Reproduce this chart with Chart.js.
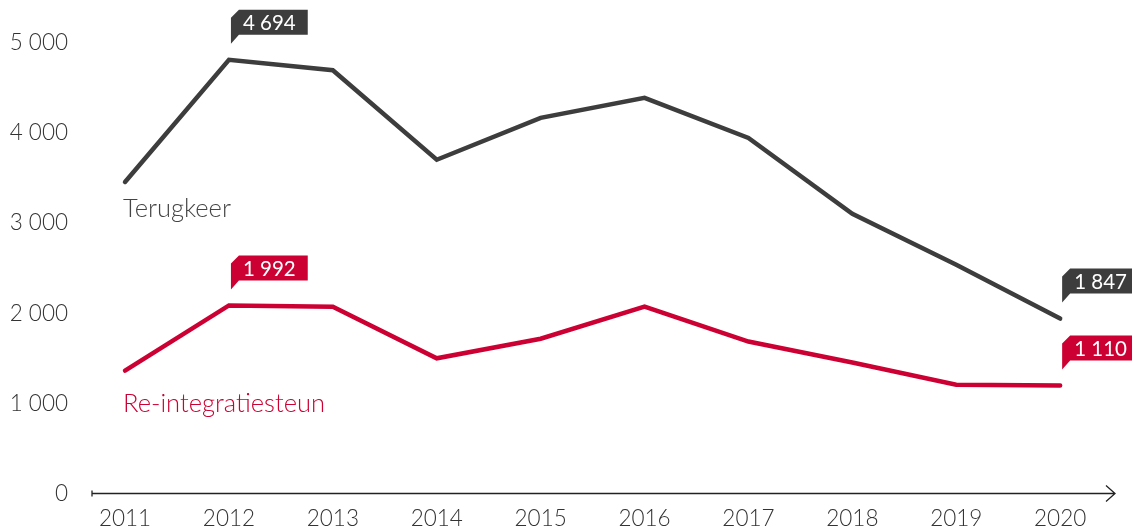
<!DOCTYPE html>
<html>
<head>
<meta charset="utf-8">
<script src="https://cdn.jsdelivr.net/npm/chart.js@4"></script>
<style>
  html, body { margin: 0; padding: 0; background: #fff; }
  #wrap { width: 1132px; height: 531px; }
</style>
</head>
<body>
<div id="wrap"><canvas id="chart" width="1132" height="531"></canvas></div>
<script>
const years = [2011, 2012, 2013, 2014, 2015, 2016, 2017, 2018, 2019, 2020];
const terugkeer = [3350, 4694, 4580, 3595, 4055, 4275, 3835, 3000, 2440, 1847];
const reintegratie = [1275, 1992, 1978, 1410, 1626, 1978, 1595, 1365, 1120, 1110];
const yTicks = [0, 1000, 2000, 3000, 4000, 5000];
const flagIndices = [1, 9];

const DARK = '#3d3d3d';
const RED = '#cc0033';
const TEXT = '#333';

function fmt(n) {
    return String(n).replace(/\B(?=(\d{3})+(?!\d))/g, ' ');
}

function drawFlag(ctx, px, py, text, color) {
    ctx.font = '20.5px Lato';
    const w = ctx.measureText(text).width + 24;
    const left = px + 2, top = py - 50, bottom = py - 25, tail = py - 16;
    ctx.fillStyle = color;
    ctx.beginPath();
    ctx.moveTo(left + 8, top);
    ctx.lineTo(left + w, top);
    ctx.lineTo(left + w, bottom);
    ctx.lineTo(left + 8, bottom);
    ctx.lineTo(left, tail);
    ctx.lineTo(left, top + 8);
    ctx.closePath();
    ctx.fill();
    ctx.fillStyle = '#fff';
    ctx.textAlign = 'left';
    ctx.textBaseline = 'middle';
    ctx.fillText(text, left + 12, (top + bottom) / 2 + 1);
}

const overlay = {
    id: 'overlay',
    beforeDatasetsDraw(chart) {
        const ctx = chart.ctx;
        const area = chart.chartArea;
        const y0 = chart.scales.y.getPixelForValue(0);
        ctx.save();
        ctx.strokeStyle = '#222';
        ctx.lineWidth = 1.3;
        ctx.beginPath();
        ctx.moveTo(area.left, y0);
        ctx.lineTo(area.right, y0);
        // left tick
        ctx.moveTo(area.left, y0 - 3);
        ctx.lineTo(area.left, y0 + 3);
        // arrow head
        ctx.moveTo(area.right - 9, y0 - 8);
        ctx.lineTo(area.right, y0);
        ctx.lineTo(area.right - 9, y0 + 8);
        ctx.stroke();
        ctx.restore();
    },
    afterDatasetsDraw(chart) {
        const ctx = chart.ctx;
        ctx.save();
        chart.data.datasets.forEach((ds, di) => {
            const meta = chart.getDatasetMeta(di);
            const p0 = meta.data[0];
            ctx.font = '300 25.5px Lato';
            ctx.fillStyle = ds.nameColor;
            ctx.textAlign = 'left';
            ctx.textBaseline = 'alphabetic';
            ctx.fillText(ds.label, p0.x + ds.nameDx, p0.y + ds.nameDy);
            flagIndices.forEach(i => {
                const p = meta.data[i];
                drawFlag(ctx, p.x, p.y, fmt(ds.data[i].y), ds.borderColor);
            });
        });
        ctx.restore();
    }
};

function series(label, values, color, nameColor, nameDx, nameDy) {
    return {
        label: label,
        data: years.map((yr, i) => ({ x: yr, y: values[i] })),
        borderColor: color,
        backgroundColor: color,
        borderWidth: 4.5,
        borderCapStyle: 'round',
        borderJoinStyle: 'miter',
        pointRadius: 0,
        tension: 0,
        yAxisID: 'yd',
        nameColor: nameColor,
        nameDx: nameDx,
        nameDy: nameDy
    };
}

Chart.defaults.font.family = 'Lato';

new Chart(document.getElementById('chart'), {
    type: 'line',
    data: {
        datasets: [
            series('Terugkeer', terugkeer, DARK, '#444', -2, 35),
            series('Re-integratiesteun', reintegratie, RED, RED, -2, 41)
        ]
    },
    options: {
        responsive: false,
        animation: false,
        devicePixelRatio: 1,
        layout: { padding: { top: 43, right: 17, left: 0, bottom: 0 } },
        plugins: { legend: { display: false }, tooltip: { enabled: false } },
        scales: {
            x: {
                type: 'linear',
                min: 2010.682,
                max: 2020.528,
                afterBuildTicks: s => { s.ticks = years.map(v => ({ value: v })); },
                afterFit: s => { s.height = 37; },
                grid: { display: false, drawTicks: false },
                border: { display: false },
                ticks: {
                    autoSkip: false,
                    maxRotation: 0,
                    padding: 12,
                    color: TEXT,
                    font: { size: 22.5, weight: 300 },
                    callback: v => String(v)
                }
            },
            y: {
                type: 'linear',
                position: 'left',
                min: 0,
                max: 5000,
                afterBuildTicks: s => { s.ticks = yTicks.map(v => ({ value: v })); },
                afterFit: s => { s.width = 92; },
                grid: { display: false, drawTicks: false },
                border: { display: false },
                ticks: {
                    padding: 24,
                    color: TEXT,
                    font: { size: 22.5, weight: 300 },
                    callback: v => fmt(v)
                }
            },
            yd: {
                type: 'linear',
                display: false,
                min: -77,
                max: 4879
            }
        }
    },
    plugins: [overlay]
});
</script>
</body>
</html>
